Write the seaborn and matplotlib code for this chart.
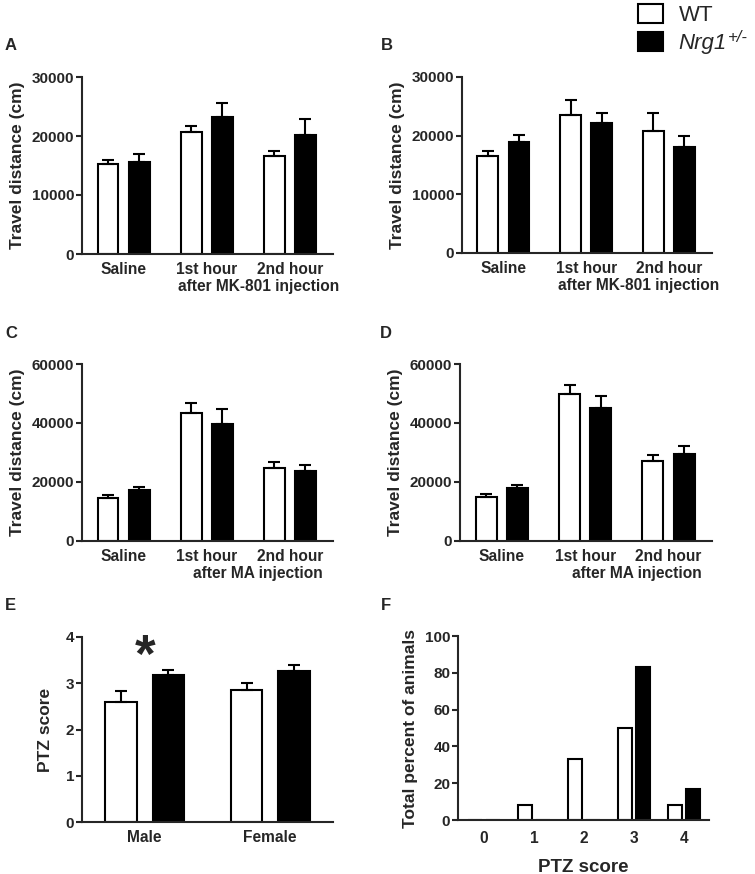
import numpy as np
import pandas as pd
import matplotlib
matplotlib.use("Agg")
import matplotlib.pyplot as plt
import seaborn as sns

# ---------------- data ----------------
genotypes = ["WT", "Nrg1"]
mk_groups = ["Saline", "1st hour", "2nd hour"]
e_groups = ["Male", "Female"]
f_scores = ["0", "1", "2", "3", "4"]

a_wt = [15170, 20600, 16600]
a_wt_sem = [830, 1100, 900]
a_ko = [15600, 23200, 20200]
a_ko_sem = [1400, 2400, 2600]

b_wt = [16500, 23600, 20800]
b_wt_sem = [900, 2400, 3000]
b_ko = [18900, 22100, 18050]
b_ko_sem = [1200, 1700, 1850]

c_wt = [14600, 43500, 24700]
c_wt_sem = [900, 3300, 2100]
c_ko = [17300, 39800, 23600]
c_ko_sem = [1100, 4900, 2300]

d_wt = [14900, 49800, 27100]
d_wt_sem = [900, 3200, 1900]
d_ko = [17900, 45100, 29600]
d_ko_sem = [1200, 3900, 2500]

e_wt = [2.59, 2.85]
e_wt_sem = [0.24, 0.16]
e_ko = [3.18, 3.26]
e_ko_sem = [0.11, 0.13]

f_wt = [0, 8.33, 33.33, 50, 8.33]
f_ko = [0, 0, 0, 83.33, 16.67]

# ---------------- style ----------------
sns.set_style("ticks")
plt.rcParams["font.family"] = ["Liberation Sans", "DejaVu Sans"]
plt.rcParams["font.weight"] = "bold"
plt.rcParams["axes.linewidth"] = 1.5

W, H = 755, 874
fig = plt.figure(figsize=(W / 100, H / 100), dpi=100)

TICK_Y = 11
TICK_X = 11.2
YLAB = 12.5


def px_axes(left, right, top, bottom):
    return fig.add_axes([left / W, 1 - bottom / H, (right - left) / W, (bottom - top) / H])


palette = {"WT": "white", "Nrg1": "black"}


def draw(ax, groups, wt, ko, wt_sem=None, ko_sem=None, width=0.75, gap=0.33):
    df = pd.DataFrame({
        "group": groups * 2,
        "genotype": ["WT"] * len(groups) + ["Nrg1"] * len(groups),
        "value": list(wt) + list(ko),
    })
    sns.barplot(data=df, x="group", y="value", hue="genotype", order=groups,
                hue_order=genotypes, palette=palette, edgecolor="black",
                linewidth=1.5, width=width, gap=gap, errorbar=None,
                legend=False, ax=ax)
    if wt_sem is not None:
        patches = ax.patches
        n = len(groups)
        sems = list(wt_sem) + list(ko_sem)
        vals = list(wt) + list(ko)
        xs = [p.get_x() + p.get_width() / 2 for p in patches[:2 * n]]
        ax.errorbar(xs, vals, yerr=[np.zeros(len(sems)), sems], fmt="none",
                    ecolor="black", elinewidth=1.5, capsize=4.5, capthick=1.5,
                    zorder=1)
    sns.despine(ax=ax)
    ax.set_xlabel("")
    ax.tick_params(axis="x", length=0, pad=5.5, labelsize=TICK_X)
    ax.tick_params(axis="y", length=4, width=1.5, pad=1.5, labelsize=TICK_Y)
    for lab in ax.get_xticklabels() + ax.get_yticklabels():
        lab.set_fontweight("bold")


def second_line(ax, text, x):
    ax.annotate(text, xy=(x, 0), xycoords=("data", "axes fraction"),
                xytext=(0, -18.2), textcoords="offset points", ha="center",
                va="top", fontsize=TICK_X, fontweight="bold")


travel = "Travel distance (cm)"

# Panel A
axA = px_axes(82, 333, 77, 254)
draw(axA, mk_groups, a_wt, a_ko, a_wt_sem, a_ko_sem)
axA.set_ylim(0, 30000)
axA.set_yticks([0, 10000, 20000, 30000])
axA.set_xlim(-0.5, 2.52)
axA.set_ylabel(travel, fontsize=YLAB, fontweight="bold", labelpad=5)
second_line(axA, "after MK-801 injection", 1.63)

# Panel B
axB = px_axes(462, 712, 77, 253)
draw(axB, mk_groups, b_wt, b_ko, b_wt_sem, b_ko_sem)
axB.set_ylim(0, 30000)
axB.set_yticks([0, 10000, 20000, 30000])
axB.set_xlim(-0.5, 2.52)
axB.set_ylabel(travel, fontsize=YLAB, fontweight="bold", labelpad=5)
second_line(axB, "after MK-801 injection", 1.63)

# Panel C
axC = px_axes(82, 333, 364, 541)
draw(axC, mk_groups, c_wt, c_ko, c_wt_sem, c_ko_sem)
axC.set_ylim(0, 60000)
axC.set_yticks([0, 20000, 40000, 60000])
axC.set_xlim(-0.5, 2.52)
axC.set_ylabel(travel, fontsize=YLAB, fontweight="bold", labelpad=5)
second_line(axC, "after MA injection", 1.62)

# Panel D
axD = px_axes(460, 712, 364, 541)
draw(axD, mk_groups, d_wt, d_ko, d_wt_sem, d_ko_sem)
axD.set_ylim(0, 60000)
axD.set_yticks([0, 20000, 40000, 60000])
axD.set_xlim(-0.5, 2.52)
axD.set_ylabel(travel, fontsize=YLAB, fontweight="bold", labelpad=5)
second_line(axD, "after MA injection", 1.62)

# Panel E
axE = px_axes(82, 333, 637, 822)
draw(axE, e_groups, e_wt, e_ko, e_wt_sem, e_ko_sem)
axE.set_ylim(0, 4)
axE.set_yticks([0, 1, 2, 3, 4])
axE.set_xlim(-0.5, 1.5)
axE.tick_params(axis="x", pad=6)
axE.set_ylabel("PTZ score", fontsize=YLAB, fontweight="bold", labelpad=9)
axE.text(0, 3.55, "*", ha="center", va="center", fontsize=38, fontweight="bold")

# Panel F
axF = px_axes(458, 709, 636, 820)
draw(axF, f_scores, f_wt, f_ko, width=0.72, gap=0.25)
axF.set_ylim(0, 100)
axF.set_yticks([0, 20, 40, 60, 80, 100])
axF.set_xlim(-0.52, 4.5)
axF.tick_params(axis="x", pad=8)
axF.set_ylabel("Total percent of animals", fontsize=YLAB, fontweight="bold", labelpad=5)
axF.set_xlabel("PTZ score", fontsize=13.5, fontweight="bold", labelpad=9)

# Panel letters
for letter, (x, y) in {"A": (11, 46), "B": (387, 45), "C": (11, 334),
                       "D": (386, 334), "E": (10, 605), "F": (386, 605)}.items():
    fig.text(x / W, 1 - y / H, letter, ha="center", va="center",
             fontsize=12, fontweight="bold")

# Legend
handles = [axA.patches[0], axA.patches[3]]
leg = fig.legend(handles, ["WT", "Nrg1"], loc="upper left",
                 bbox_to_anchor=(638 / W, 1 - 4 / H), frameon=False,
                 borderpad=0, borderaxespad=0, handlelength=1.14,
                 handleheight=0.95, handletextpad=0.68, labelspacing=0.25,
                 prop={"size": 16, "weight": "normal"})
leg.get_texts()[1].set_fontstyle("italic")
fig.canvas.draw()
t = leg.get_texts()[1]
bb = t.get_window_extent()
fig.text(bb.x1 / W + 0.001, bb.y1 / H + 0.004, "+/-", ha="left", va="top",
         fontsize=12, fontweight="normal", fontstyle="italic")

fig.savefig("out.png", dpi=100)
